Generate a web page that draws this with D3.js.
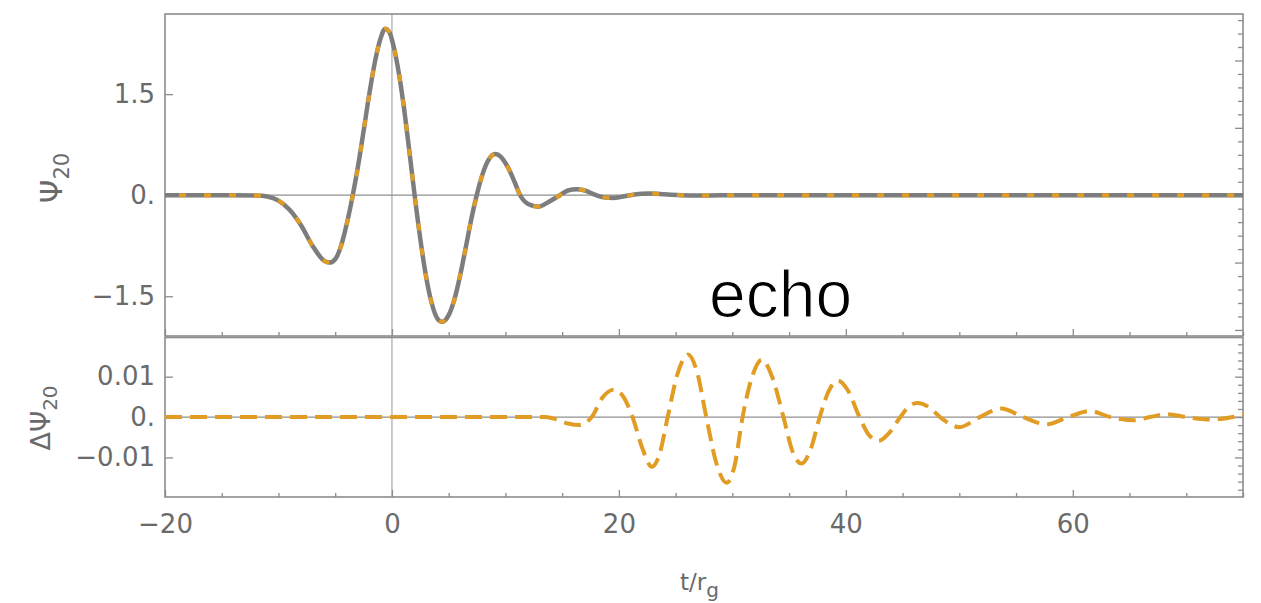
<!DOCTYPE html>
<html>
<head>
<meta charset="utf-8">
<script src="https://cdn.jsdelivr.net/npm/d3@7"></script>
<style>
  body { margin: 0; background: #fff; }
  svg { display: block; }
</style>
</head>
<body>
<svg id="chart" width="1261" height="603"></svg>
<script>
// ---------------- data ----------------
const tTop = [-20, -14, -12, -11, -10, -9, -8, -7, -6, -5.5, -5, -4.5, -4, -3.5, -3, -2.5, -2, -1.5, -1, -0.6, -0.2, 0.2, 0.6, 1, 1.5, 2, 2.5, 3, 3.5, 4, 4.4, 5, 5.5, 6, 6.5, 7, 7.5, 8, 8.5, 9.1, 9.6, 10.2, 10.8, 11.3, 12, 12.9, 13.8, 14.8, 15.5, 16.3, 17, 18, 18.8, 19.5, 20.2, 21, 22, 22.7, 24, 25.5, 27, 29, 75];
const psiTop = [0, 0, -0.005, -0.02, -0.08, -0.22, -0.45, -0.75, -0.97, -1.0, -0.95, -0.76, -0.44, -0.04, 0.42, 0.95, 1.5, 1.98, 2.33, 2.47, 2.41, 2.17, 1.82, 1.37, 0.7, 0.0, -0.65, -1.2, -1.6, -1.83, -1.88, -1.78, -1.55, -1.2, -0.78, -0.35, 0.02, 0.32, 0.52, 0.61, 0.57, 0.42, 0.2, 0.0, -0.13, -0.17, -0.1, 0.0, 0.07, 0.09, 0.07, 0.0, -0.035, -0.04, -0.025, 0.0, 0.02, 0.025, 0.015, 0.0, -0.005, 0, 0];

const tBot = [-20, 13.5, 14.5, 15.5, 16.6, 17.6, 18.6, 19.6, 20.4, 21.2, 22.1, 22.9, 23.6, 24.3, 25.2, 26.1, 26.9, 27.7, 28.6, 29.5, 30.2, 30.9, 31.8, 32.6, 33.5, 34.5, 35.3, 36.1, 36.9, 37.7, 38.5, 39.3, 40.2, 41.2, 42.0, 42.9, 43.8, 44.8, 45.5, 46.3, 47.3, 48.3, 50.0, 51.8, 53.7, 55.6, 57.7, 59.6, 61.5, 63.3, 65.5, 66.8, 68.3, 70.0, 72.2, 74.1, 75];
const dPsi = [0, 0, -0.0006, -0.0016, -0.002, 0, 0.005, 0.0068, 0.005, 0, -0.008, -0.0123, -0.009, 0, 0.011, 0.0155, 0.011, 0, -0.0115, -0.0163, -0.012, 0, 0.0105, 0.0142, 0.01, 0, -0.0085, -0.0115, -0.008, 0, 0.0065, 0.009, 0.0065, 0, -0.0043, -0.0059, -0.004, 0, 0.0025, 0.0035, 0.0025, 0, -0.0025, 0, 0.0021, 0, -0.0018, 0, 0.0015, 0, -0.0008, 0, 0.0007, 0, -0.0006, 0, 0.0007];

const xTickValues = [-20, 0, 20, 40, 60];
const xTickLabels = ["\u221220", "0", "20", "40", "60"];
const yTopTickValues = [-1.5, 0, 1.5];
const yTopTickLabels = ["\u22121.5", "0.", "1.5"];
const yBotTickValues = [-0.01, 0, 0.01];
const yBotTickLabels = ["\u22120.01", "0.", "0.01"];

// ---------------- layout ----------------
const svg = d3.select("#chart");
const L = 165, R = 1243;
const topY0 = 14, topY1 = 336, botY0 = 337.5, botY1 = 497;

const x = d3.scaleLinear().domain([-20, 75]).range([L, R]);
const yTop = d3.scaleLinear().domain([-2.09, 2.69]).range([topY1, topY0]);
const yBot = d3.scaleLinear().domain([-0.0198, 0.0197]).range([botY1, botY0]);

const frameCol = "#8c8c8c", tickCol = "#8c8c8c", labCol = "#6a6a6a";
const grayLine = "#7d7d7d", orange = "#e19c24";
const FONT = "'DejaVu Sans', 'Liberation Sans', Arial, sans-serif";

function styleAxis(g, fs) {
  g.select(".domain").remove();
  g.selectAll(".tick line").attr("stroke", tickCol).attr("stroke-width", 1.3);
  g.selectAll(".tick text").attr("fill", labCol).style("font-size", fs + "px").style("font-family", FONT);
}

// ---- reference lines (zero lines) ----
function drawGrid(yScale, y0, y1) {
  svg.append("line").attr("x1", x(0)).attr("x2", x(0)).attr("y1", y0).attr("y2", y1)
    .attr("stroke", "#b4b4b4").attr("stroke-width", 1.4);
  svg.append("line").attr("x1", L).attr("x2", R).attr("y1", yScale(0)).attr("y2", yScale(0))
    .attr("stroke", "#8f8f8f").attr("stroke-width", 1.3);
}
drawGrid(yTop, topY0, topY1);
drawGrid(yBot, botY0, botY1);

// ---- frames ----
svg.append("rect").attr("x", L).attr("y", topY0).attr("width", R - L).attr("height", topY1 - topY0)
  .attr("fill", "none").attr("stroke", frameCol).attr("stroke-width", 1.6);
svg.append("rect").attr("x", L).attr("y", botY0).attr("width", R - L).attr("height", botY1 - botY0)
  .attr("fill", "none").attr("stroke", frameCol).attr("stroke-width", 1.6);

// ---- x ticks (both panels) ----
const xMinor = d3.range(-20, 76, 5).filter(v => v % 20 !== 0);
[topY1, botY1].forEach((yy, idx) => {
  const gMaj = svg.append("g").attr("transform", `translate(0,${yy})`)
    .call(d3.axisBottom(x).tickValues(xTickValues)
      .tickFormat(idx === 1 ? (d, i) => xTickLabels[i] : "")
      .tickSizeInner(-7).tickSizeOuter(0).tickPadding(18));
  styleAxis(gMaj, 26);
  const gMin = svg.append("g").attr("transform", `translate(0,${yy})`)
    .call(d3.axisBottom(x).tickValues(xMinor).tickFormat("").tickSizeInner(-4).tickSizeOuter(0));
  styleAxis(gMin, 26);
});

// ---- left y ticks ----
const gLT = svg.append("g").attr("transform", `translate(${L},0)`)
  .call(d3.axisLeft(yTop).tickValues(yTopTickValues).tickFormat((d, i) => yTopTickLabels[i])
    .tickSizeInner(-8).tickSizeOuter(0).tickPadding(10));
styleAxis(gLT, 26);
const gLB = svg.append("g").attr("transform", `translate(${L},0)`)
  .call(d3.axisLeft(yBot).tickValues(yBotTickValues).tickFormat((d, i) => yBotTickLabels[i])
    .tickSizeInner(-8).tickSizeOuter(0).tickPadding(10));
styleAxis(gLB, 26);

// ---- right y ticks (unlabelled) ----
const rTopMaj = [-2, -1, 0, 1, 2];
const rTopMin = d3.range(-20, 27, 2).map(v => v / 10).filter(v => Math.abs(v - Math.round(v)) > 1e-9);
const rBotMaj = [-0.01, 0, 0.01];
const rBotMin = d3.range(-18, 19, 2).map(v => v / 1000).filter(v => Math.abs(v * 100 - Math.round(v * 100)) > 1e-9);
[[yTop, rTopMaj, 8], [yTop, rTopMin, 5], [yBot, rBotMaj, 8], [yBot, rBotMin, 5]].forEach(([sc, vals, len]) => {
  const g = svg.append("g").attr("transform", `translate(${R},0)`)
    .call(d3.axisRight(sc).tickValues(vals).tickFormat("").tickSizeInner(-len).tickSizeOuter(0));
  styleAxis(g, 26);
});

// ---- curves ----
const topData = tTop.map((t, i) => [t, psiTop[i]]);
const botData = tBot.map((t, i) => [t, dPsi[i]]);
const lineTop = d3.line().x(d => x(d[0])).y(d => yTop(d[1])).curve(d3.curveMonotoneX);
const lineBot = d3.line().x(d => x(d[0])).y(d => yBot(d[1])).curve(d3.curveMonotoneX);

svg.append("path").datum(topData).attr("d", lineTop).attr("fill", "none")
  .attr("stroke", grayLine).attr("stroke-width", 4.5).attr("stroke-linejoin", "round");
svg.append("path").datum(topData).attr("d", lineTop).attr("fill", "none")
  .attr("stroke", orange).attr("stroke-width", 4).attr("stroke-dasharray", "7,18")
  .attr("stroke-dashoffset", -14);
svg.append("path").datum(botData).attr("d", lineBot).attr("fill", "none")
  .attr("stroke", orange).attr("stroke-width", 4).attr("stroke-dasharray", "17,8");

// ---- axis labels ----
const lab1 = svg.append("text").attr("transform", "translate(62,178) rotate(-90)")
  .attr("text-anchor", "middle").attr("fill", labCol)
  .style("font-family", FONT).style("font-size", "30px");
lab1.append("tspan").text("\u03A8");
lab1.append("tspan").style("font-size", "21px").attr("dy", 7).text("20");

const lab2 = svg.append("text").attr("transform", "translate(50,418) rotate(-90)")
  .attr("text-anchor", "middle").attr("fill", labCol)
  .style("font-family", FONT).style("font-size", "27px");
lab2.append("tspan").text("\u0394\u03A8");
lab2.append("tspan").style("font-size", "20px").attr("dy", 7).text("20");

const xl = svg.append("text").attr("x", 680).attr("y", 590).attr("fill", labCol)
  .style("font-family", FONT).style("font-size", "23px");
xl.append("tspan").text("t/r");
xl.append("tspan").style("font-size", "20px").attr("dy", 7).text("g");

// ---- annotation ----
svg.append("text").attr("x", 709).attr("y", 317).attr("fill", "#000")
  .attr("stroke", "#fff").attr("stroke-width", 1.2)
  .style("font-family", "'Liberation Sans', Arial, sans-serif").style("font-weight", 400)
  .style("font-size", "66px").text("echo");
</script>
</body>
</html>
